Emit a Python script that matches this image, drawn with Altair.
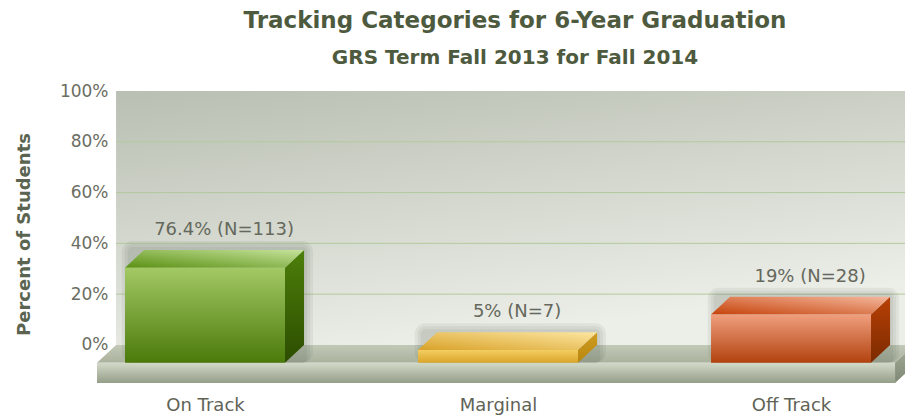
import json
import altair as alt
import pandas as pd

# ---- data ----
categories = ["On Track", "Marginal", "Off Track"]
drawn_pct = [37.4, 5.0, 19.0]          # bar heights as drawn
value_labels = ["76.4% (N=113)", "5% (N=7)", "19% (N=28)"]
y_ticks = [0, 20, 40, 60, 80, 100]
grid_vals = [20, 40, 60, 80]

# ---- style / layout constants ----
HALF = 0.273      # half bar width (category units)
DX = 0.065        # 3D depth, x (category units)
DY = 7.0          # 3D depth, y (percent units)
XMIN, XMAX = -0.3686, 2.389
YMIN, YMAX = -15.0, 100.0
FLOOR_R = 2.355
PXX = 1 / 293.0   # one pixel in category units
PXY = 1 / 2.54    # one pixel in percent units

faces = {
    "On Track": {
        "front": ["#a3c965", "#4b7a0a"],
        "top": ["#5a9012", "#c6e39c"],
        "side": ["#4d7f0a", "#2c4d00"],
    },
    "Marginal": {
        "front": ["#f3ce62", "#dba52a"],
        "top": ["#d9a22a", "#fce6a0"],
        "side": ["#d09c22", "#b8870f"],
    },
    "Off Track": {
        "front": ["#f09f7e", "#b2420f"],
        "top": ["#c6430b", "#f4b89d"],
        "side": ["#b94006", "#7a2a00"],
    },
}

def grad(c0, c1, x1=0, y1=0, x2=0, y2=1):
    return alt.Gradient(
        gradient="linear",
        stops=[alt.GradientStop(color=c0, offset=0), alt.GradientStop(color=c1, offset=1)],
        x1=x1, y1=y1, x2=x2, y2=y2,
    )

XS = alt.Scale(domain=[XMIN, XMAX], nice=False, zero=False)
YS = alt.Scale(domain=[YMIN, YMAX], nice=False, zero=False)

label_expr = json.dumps(categories) + "[datum.value]"
X_AX = alt.Axis(values=[0, 1, 2], labelExpr=label_expr, title=None, domain=False,
                ticks=False, tickSize=0, grid=False, labelPadding=13,
                labelFont="DejaVu Sans", labelFontSize=18, labelColor="#5f6356",
                labelBaseline="top", zindex=1)
Y_AX = alt.Axis(values=y_ticks, labelExpr="datum.value + '%'", title="Percent of Students",
                domain=False, ticks=False, tickSize=0, grid=False, labelPadding=0, offset=-11,
                labelFont="DejaVu Sans", labelFontSize=17, labelColor="#6b6e62",
                titleFont="DejaVu Sans", titleFontSize=18, titleFontWeight="bold",
                titleColor="#5a6450", titleAngle=270, titleX=-84, titleY=143,
                titleAlign="center", titleBaseline="middle", zindex=1)

def xq(field):
    return alt.X(field, type="quantitative", scale=XS, axis=X_AX)

def yq(field):
    return alt.Y(field, type="quantitative", scale=YS, axis=Y_AX)

layers = []

# back wall
wall = pd.DataFrame({"x0": [XMIN + DX], "x1": [XMAX], "y0": [0.0], "y1": [YMAX]})
layers.append(
    alt.Chart(wall).mark_rect(color=grad("#b9bfb2", "#eceee8", 0, 0, 0.4, 1))
    .encode(x=xq("x0"), x2="x1", y=yq("y0"), y2="y1")
)

# gridlines
grid = pd.DataFrame({"y": grid_vals, "x0": XMIN + DX, "x1": XMAX})
layers.append(
    alt.Chart(grid).mark_rule(color="#b3c99c", strokeWidth=1)
    .encode(x=xq("x0"), x2="x1", y=yq("y"))
)

# floor top face (parallelogram as area)
floor_top = pd.DataFrame({
    "x": [XMIN, XMIN + DX, FLOOR_R, FLOOR_R + DX],
    "yu": [-DY, 0, 0, 0],
    "yl": [-DY, -DY, -DY, 0],
})
layers.append(
    alt.Chart(floor_top).mark_area(orient="vertical", color=grad("#c2c9b8", "#aab29d"))
    .encode(x=xq("x"), y=yq("yu"), y2="yl")
)
# floor front face
floor_front = pd.DataFrame({"x0": [XMIN], "x1": [FLOOR_R], "y0": [-DY], "y1": [YMIN]})
layers.append(
    alt.Chart(floor_front).mark_rect(color=grad("#d3dac9", "#959e89"))
    .encode(x=xq("x0"), x2="x1", y=yq("y0"), y2="y1")
)
# floor side face
floor_side = pd.DataFrame({"x": [FLOOR_R, FLOOR_R + DX], "yu": [-DY, 0], "yl": [YMIN, YMIN + DY]})
layers.append(
    alt.Chart(floor_side).mark_area(orient="vertical", color=grad("#a5ae98", "#7f8874"))
    .encode(x=xq("x"), y=yq("yu"), y2="yl")
)

# bars
for i, (cat, v) in enumerate(zip(categories, drawn_pct)):
    x0, x1 = i - HALF, i + HALF
    c = faces[cat]
    # soft shadow (stacked translucent boxes)
    for k in (9, 6, 3):
        sh = pd.DataFrame({
            "x0": [x0 + DX * 0.3 - k * PXX], "x1": [x1 + DX + k * PXX],
            "y0": [-DY], "y1": [v + k * PXY],
        })
        layers.append(
            alt.Chart(sh).mark_rect(color="#3f4536", opacity=0.07, cornerRadius=k + 2)
            .encode(x=xq("x0"), x2="x1", y=yq("y0"), y2="y1")
        )
    side = pd.DataFrame({"x": [x1, x1 + DX], "yu": [v - DY, v], "yl": [-DY, 0]})
    layers.append(
        alt.Chart(side).mark_area(orient="vertical", color=grad(c["side"][0], c["side"][1]))
        .encode(x=xq("x"), y=yq("yu"), y2="yl")
    )
    top = pd.DataFrame({
        "x": [x0, x0 + DX, x1, x1 + DX],
        "yu": [v - DY, v, v, v],
        "yl": [v - DY, v - DY, v - DY, v],
    })
    layers.append(
        alt.Chart(top).mark_area(orient="vertical", color=grad(c["top"][0], c["top"][1], 0, 1, 1, 0))
        .encode(x=xq("x"), y=yq("yu"), y2="yl")
    )
    front = pd.DataFrame({"x0": [x0], "x1": [x1], "y0": [-DY], "y1": [v - DY]})
    layers.append(
        alt.Chart(front).mark_rect(color=grad(c["front"][1], c["front"][0], 0, 1, 0, 0))
        .encode(x=xq("x0"), x2="x1", y=yq("y0"), y2="y1")
    )

# value labels
lab = pd.DataFrame({"x": [i + DX for i in range(len(categories))], "y": drawn_pct, "t": value_labels})
layers.append(
    alt.Chart(lab).mark_text(font="DejaVu Sans", fontSize=18, color="#65685c", dy=-20, baseline="middle")
    .encode(x=xq("x"), y=yq("y"), text="t:N")
)

chart = alt.layer(*layers).properties(
    width=808, height=292, autosize="none",
    padding={"left": 97, "top": 91, "right": 0, "bottom": 32},
    background="white",
    title=alt.TitleParams(
        text="Tracking Categories for 6-Year Graduation",
        subtitle="GRS Term Fall 2013 for Fall 2014",
        anchor="middle", dx=14, offset=14,
        font="DejaVu Sans", fontSize=23, fontWeight="bold", color="#4e5a3e",
        subtitleFont="DejaVu Sans", subtitleFontSize=20, subtitleFontWeight="bold",
        subtitleColor="#4e5a3e", subtitlePadding=15,
    ),
).configure_view(stroke=None)

chart.save("out.html", embed_options={"renderer": "svg", "actions": False})
